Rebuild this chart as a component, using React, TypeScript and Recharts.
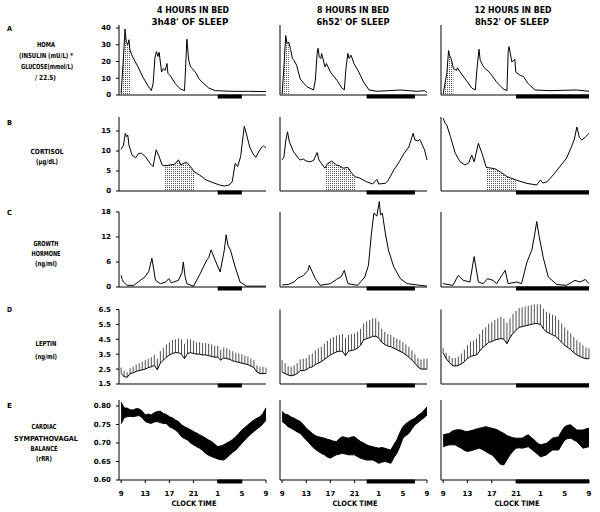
import React from "react";
import {
  ComposedChart,
  Line,
  Area,
  XAxis,
  YAxis,
  ReferenceLine,
  ReferenceArea,
  ErrorBar,
} from "recharts";

// clock hours, 9 = 09:00, 33 = 09:00 next day
const clockTicks = [9, 13, 17, 21, 25, 29, 33];
const halfHours = [
  9, 9.5, 10, 10.5, 11, 11.5, 12, 12.5, 13, 13.5, 14, 14.5, 15, 15.5, 16, 16.5,
  17, 17.5, 18, 18.5, 19, 19.5, 20, 20.5, 21, 21.5, 22, 22.5, 23, 23.5, 24,
  24.5, 25, 25.5, 26, 26.5, 27, 27.5, 28, 28.5, 29, 29.5, 30, 30.5, 31, 31.5,
  32, 32.5, 33,
];

// time in bed (clock hours)
const sleep4 = [25, 29];
const sleep8 = [23, 31];
const sleep12 = [21, 33];

// A: HOMA
const homa4T = [9, 9.35, 9.65, 9.85, 10.1, 10.3, 10.45, 10.9, 11.8, 12.6, 13.4, 14, 14.3, 14.6, 14.85, 15.1, 15.3, 15.7, 16, 16.3, 16.6, 16.75, 17.1, 18, 18.8, 19.5, 19.9, 20.1, 20.2, 20.5, 20.8, 21.4, 21.9, 22.7, 23.5, 24.6, 27.4, 30.1, 33];
const homa4 = [1, 20, 39.4, 32, 30, 33, 27, 22.8, 16.8, 10.7, 5.7, 2.6, 6.7, 22, 25.9, 23, 25.5, 13.7, 15.8, 14.7, 18.8, 13, 11.7, 6.7, 3.6, 2.6, 33.3, 24.8, 20.8, 16.8, 15.8, 13.1, 9.7, 6.7, 4.2, 2.6, 2.2, 2.2, 2];
const homa4Shade = [9, 10.45];

const homa8T = [9, 9.3, 9.6, 9.8, 10.1, 10.4, 10.7, 10.9, 11.4, 12, 13.1, 14.2, 14.5, 14.8, 14.95, 15.15, 15.4, 15.55, 16.1, 16.35, 17, 18.1, 18.9, 19.3, 19.6, 19.9, 20.1, 20.4, 20.9, 21.7, 22.5, 23.4, 24.7, 28.6, 31.4, 32.6, 33];
const homa8 = [0.6, 16.8, 35.5, 30.9, 31.5, 27.3, 21.8, 21.2, 17.8, 9.5, 5, 3, 8.7, 24.8, 27.9, 22.8, 21.8, 24.8, 16.8, 18.8, 13.7, 8.7, 4.2, 3, 16.8, 24.8, 21.8, 23.8, 18.8, 13.7, 7.7, 3, 2.2, 3, 2.2, 2.6, 1.5];
const homa8Shade = [9, 10.1];

const homa12T = [9, 9.6, 9.9, 10.05, 10.3, 10.7, 11.2, 11.35, 12, 12.9, 13.7, 14.3, 14.6, 14.9, 15.1, 15.5, 15.9, 16.4, 16.9, 17.8, 18.9, 19.5, 19.7, 19.85, 20.3, 20.8, 20.95, 21.7, 22.2, 23, 24.1, 26.6, 31, 33];
const homa12 = [0.6, 12.7, 26.5, 23.8, 21.8, 15.8, 14.7, 16.2, 12.7, 8.3, 4.2, 3, 16.8, 27.3, 20.8, 17.8, 15.8, 14.3, 12.3, 7.7, 3.6, 2.6, 25.9, 28.9, 19.8, 21.2, 13.7, 11.7, 11.1, 6.7, 3, 2.6, 3, 2.2];
const homa12Shade = [9, 10.7];

// B: cortisol
const cort4T = [9, 9.4, 9.7, 9.9, 10.1, 10.3, 10.8, 11.4, 11.9, 12.4, 13, 13.8, 14.3, 14.8, 15.2, 15.8, 16.1, 17.1, 17.9, 18.5, 18.9, 19.5, 19.9, 20.7, 21.1, 22, 23.1, 24.2, 25.3, 26.1, 26.9, 27.4, 27.9, 28.3, 28.8, 29.4, 29.8, 30.3, 30.8, 31.3, 31.8, 32.2, 32.6, 33];
const cort4 = [10.4, 11.5, 14.4, 13.6, 14, 11.5, 9, 8.3, 9.4, 9.4, 8.6, 6.9, 6.1, 10.3, 9, 6.5, 6.3, 6.5, 6.7, 7.8, 6.5, 7, 7.1, 5.7, 4.8, 4, 2.75, 2.1, 1.5, 1.25, 1.5, 2.3, 6.9, 6.1, 8.6, 16.2, 14, 11, 9.4, 8.4, 9.8, 10.8, 11.3, 10.7];
const cort4Shade = [16.1, 21.1];

const cort8T = [9, 9.3, 9.6, 9.9, 10.2, 10.9, 11.7, 12, 12.5, 13, 13.6, 14.2, 14.8, 15.1, 16.1, 16.5, 17.2, 18, 18.5, 19.1, 19.9, 20.5, 21.1, 21.9, 23, 24, 24.7, 25, 26.1, 26.6, 27.5, 28.4, 29.2, 30, 30.7, 31, 31.5, 31.8, 32.6, 33];
const cort8 = [7.8, 8.5, 12.5, 14.8, 12.3, 9.8, 8.2, 7.75, 8, 7.5, 7.3, 7.6, 9.6, 7.75, 5.7, 6.8, 7.5, 6.5, 6.3, 5.7, 5.9, 4.5, 3.6, 3.2, 2.3, 1.75, 2.9, 1.75, 1.9, 2.75, 5.25, 7.3, 9.4, 11, 14.4, 12.75, 12.5, 12.9, 10.25, 7.75];
const cort8Shade = [16.1, 21.1];

const cort12T = [9, 9.3, 9.6, 10.2, 11, 11.8, 12.6, 13.2, 13.7, 14.1, 14.8, 15.4, 16.1, 17, 17.6, 18.4, 19.5, 21, 22.8, 24.4, 25, 25.4, 26.1, 27.1, 28.2, 29.3, 30.1, 30.6, 31, 31.4, 31.8, 32.4, 33];
const cort12 = [18.2, 17, 16.5, 13.6, 9.4, 7.3, 6.5, 7, 9, 7.3, 11.9, 9.4, 5.9, 5.7, 5.5, 4.8, 3.6, 2.75, 1.9, 1.5, 2.75, 2, 2.3, 4, 6.1, 8.2, 11, 13, 16, 13.5, 12.75, 13.5, 14.4];
const cort12Shade = [16.1, 21];

// C: growth hormone
const gh4T = [9, 9.2, 9.4, 10, 11.1, 12.2, 13, 13.6, 14.1, 14.7, 15.5, 16.4, 16.9, 17.3, 18.5, 19.1, 19.3, 19.6, 19.9, 21, 22.1, 23.2, 23.5, 23.9, 24.7, 25.4, 26.1, 26.4, 26.7, 27.1, 27.9, 28.7, 29.8, 33];
const gh4 = [2.8, 1.8, 1.2, 0.4, 0.4, 1.6, 2.5, 3.8, 6.9, 1.6, 0.8, 1.2, 2, 1, 1.6, 3.5, 6, 2.5, 0.8, 0.2, 3.2, 6.5, 7, 8.9, 6, 3.6, 8.9, 12.5, 10, 8.9, 4.8, 1.2, 0.2, 0.2];

const gh8T = [9, 10, 11, 11.5, 12, 12.5, 13.3, 13.5, 14.5, 15.3, 17, 18, 18.8, 19.3, 19.9, 21.5, 22.7, 23.3, 23.8, 24.2, 24.7, 25.1, 25.3, 25.6, 26.1, 26.6, 27.5, 28.6, 29.7, 33];
const gh8 = [0.5, 0.6, 1.2, 2, 2.4, 2.7, 4, 5.2, 2, 0.4, 0.8, 1.8, 2.5, 4, 0.8, 0.4, 2.4, 5.2, 12.9, 17.7, 17, 20.5, 17.3, 17.7, 12.9, 8.9, 4.8, 2, 0.8, 0.2];

const gh12T = [9, 10.6, 11.5, 12.3, 13.4, 14.1, 14.8, 15.6, 16.3, 17.2, 17.8, 19.2, 19.7, 21.1, 21.9, 22.8, 23.6, 24.1, 24.4, 24.8, 25.5, 26.3, 27.7, 29.3, 30.7, 31.5, 32.4, 33];
const gh12 = [0.8, 0.4, 2.8, 1.6, 1.2, 7.3, 1.2, 0.8, 2, 1.6, 0.8, 4, 0.8, 1.2, 0.8, 6, 8.9, 12.9, 15.7, 12.1, 6.9, 2.4, 0.6, 0.4, 1.6, 1.2, 1.8, 0.8];

// D: leptin, mean and upward SEM, every half hour
const lep4 = [2.2, 2, 1.95, 2.2, 2.25, 2.35, 2.4, 2.45, 2.5, 2.6, 2.65, 2.75, 2.45, 2.9, 3.1, 3.3, 3.45, 3.55, 3.6, 3.6, 3.5, 3.2, 3.55, 3.6, 3.55, 3.5, 3.5, 3.45, 3.45, 3.4, 3.35, 3.3, 3.3, 3.1, 3.25, 3.2, 3.15, 3.05, 3, 2.95, 2.9, 2.85, 2.8, 2.7, 2.6, 2.3, 2.2, 2.2, 2.2];
const lep4Sem = [0.4, 0.4, 0.35, 0.35, 0.4, 0.45, 0.5, 0.55, 0.6, 0.6, 0.65, 0.7, 0.75, 0.8, 0.8, 0.85, 0.85, 0.9, 0.9, 0.95, 1, 1, 0.95, 0.9, 0.85, 0.8, 0.8, 0.8, 0.8, 0.8, 0.8, 0.75, 0.75, 0.7, 0.7, 0.7, 0.65, 0.65, 0.6, 0.6, 0.6, 0.55, 0.55, 0.5, 0.5, 0.45, 0.45, 0.45, 0.4];
const lep8 = [2.3, 2.2, 2.1, 2.05, 2.1, 2.2, 2.4, 2.4, 2.45, 2.6, 2.65, 2.8, 2.9, 3, 3.15, 3.3, 3.45, 3.55, 3.65, 3.7, 3.7, 3.4, 3.7, 3.75, 3.8, 3.9, 4.1, 4.45, 4.55, 4.6, 4.7, 4.7, 4.6, 4.3, 4.15, 4.05, 4, 3.9, 3.8, 3.7, 3.6, 3.45, 3.3, 3.1, 2.9, 2.65, 2.5, 2.5, 2.5];
const lep8Sem = [0.8, 0.7, 0.6, 0.6, 0.65, 0.7, 0.75, 0.8, 0.8, 0.85, 0.9, 0.95, 1, 1, 1.05, 1.1, 1.1, 1.1, 1.1, 1.1, 1.15, 1.2, 1.1, 1.1, 1.1, 1.1, 1.1, 1.1, 1.15, 1.2, 1.2, 1.2, 1.1, 0.9, 0.85, 0.8, 0.8, 0.75, 0.75, 0.75, 0.7, 0.7, 0.7, 0.65, 0.6, 0.6, 0.65, 0.7, 0.7];
const lep12 = [3.6, 3.2, 2.95, 2.75, 2.7, 2.75, 2.85, 3, 3.2, 3.35, 3.4, 3.45, 3.7, 3.95, 4.1, 4.3, 4.35, 4.45, 4.5, 4.55, 4.5, 4.2, 4.6, 4.9, 5.1, 5.3, 5.35, 5.4, 5.45, 5.5, 5.55, 5.55, 5.5, 5.2, 5, 4.9, 4.8, 4.7, 4.5, 4.3, 4.1, 3.95, 3.8, 3.6, 3.45, 3.35, 3.25, 3.2, 3.2];
const lep12Sem = [0.3, 0.4, 0.45, 0.5, 0.55, 0.6, 0.7, 0.8, 0.9, 1, 1, 1.1, 1.15, 1.2, 1.2, 1.25, 1.3, 1.35, 1.4, 1.45, 1.4, 1.4, 1.3, 1.3, 1.3, 1.3, 1.3, 1.3, 1.3, 1.3, 1.3, 1.3, 1.35, 1.35, 1.35, 1.35, 1.35, 1.35, 1.3, 1.25, 1.2, 1.15, 1.1, 1.05, 1, 0.95, 0.85, 0.75, 0.7];

// E: cardiac sympathovagal balance, lower and upper edge of the band
const sv4Lo = [0.752, 0.768, 0.771, 0.772, 0.771, 0.773, 0.774, 0.768, 0.758, 0.755, 0.753, 0.757, 0.758, 0.755, 0.753, 0.752, 0.744, 0.74, 0.735, 0.728, 0.717, 0.712, 0.708, 0.7, 0.695, 0.69, 0.686, 0.68, 0.672, 0.667, 0.663, 0.66, 0.657, 0.655, 0.654, 0.66, 0.668, 0.675, 0.681, 0.69, 0.699, 0.708, 0.717, 0.724, 0.731, 0.738, 0.744, 0.752, 0.762];
const sv4Hi = [0.81, 0.795, 0.794, 0.79, 0.789, 0.793, 0.792, 0.786, 0.776, 0.778, 0.776, 0.782, 0.785, 0.786, 0.78, 0.777, 0.771, 0.768, 0.762, 0.758, 0.749, 0.744, 0.74, 0.736, 0.731, 0.727, 0.722, 0.718, 0.713, 0.708, 0.704, 0.697, 0.69, 0.692, 0.695, 0.7, 0.704, 0.71, 0.717, 0.726, 0.735, 0.742, 0.749, 0.756, 0.762, 0.767, 0.771, 0.78, 0.795];
const sv8Lo = [0.758, 0.752, 0.744, 0.74, 0.735, 0.73, 0.726, 0.717, 0.708, 0.7, 0.69, 0.683, 0.677, 0.672, 0.668, 0.662, 0.659, 0.664, 0.668, 0.67, 0.672, 0.67, 0.668, 0.668, 0.668, 0.663, 0.659, 0.656, 0.654, 0.654, 0.654, 0.65, 0.645, 0.648, 0.65, 0.648, 0.645, 0.66, 0.672, 0.69, 0.713, 0.72, 0.726, 0.738, 0.749, 0.755, 0.762, 0.768, 0.776];
const sv8Hi = [0.785, 0.778, 0.776, 0.77, 0.767, 0.762, 0.758, 0.75, 0.74, 0.733, 0.726, 0.72, 0.717, 0.715, 0.713, 0.71, 0.708, 0.705, 0.704, 0.712, 0.717, 0.715, 0.713, 0.716, 0.717, 0.71, 0.704, 0.7, 0.695, 0.692, 0.69, 0.688, 0.686, 0.688, 0.686, 0.683, 0.681, 0.695, 0.708, 0.728, 0.744, 0.752, 0.758, 0.763, 0.767, 0.775, 0.78, 0.788, 0.798];
const sv12Lo = [0.69, 0.693, 0.695, 0.695, 0.695, 0.69, 0.686, 0.68, 0.677, 0.679, 0.681, 0.684, 0.686, 0.682, 0.677, 0.672, 0.668, 0.66, 0.65, 0.642, 0.641, 0.655, 0.668, 0.678, 0.686, 0.687, 0.686, 0.688, 0.69, 0.684, 0.677, 0.67, 0.663, 0.665, 0.668, 0.675, 0.681, 0.681, 0.681, 0.695, 0.708, 0.712, 0.713, 0.708, 0.704, 0.695, 0.686, 0.688, 0.69];
const sv12Hi = [0.722, 0.724, 0.726, 0.732, 0.735, 0.736, 0.735, 0.732, 0.731, 0.733, 0.735, 0.738, 0.74, 0.742, 0.744, 0.742, 0.74, 0.738, 0.735, 0.73, 0.726, 0.72, 0.717, 0.714, 0.713, 0.713, 0.713, 0.718, 0.722, 0.715, 0.708, 0.7, 0.695, 0.697, 0.699, 0.706, 0.713, 0.715, 0.717, 0.732, 0.744, 0.748, 0.749, 0.742, 0.735, 0.735, 0.735, 0.738, 0.74];

// ---- layout (pixels) ----
const X_MIN = 8.65;
const COLS = [
  { left: 119, right: 266 },
  { left: 280, right: 427 },
  { left: 441, right: 589 },
];
const ROWS: Record<string, any> = {
  A: { top: 25, bottom: 95, domain: [0, 41.8], axisMax: 41.8, ticks: [0, 10, 20, 30, 40] },
  B: { top: 117, bottom: 191, domain: [0, 18.5], axisMax: 18.5, ticks: [0, 5, 10, 15] },
  C: { top: 199, bottom: 287, domain: [0, 21.1], axisMax: 18, ticks: [0, 6, 12, 18] },
  D: { top: 302, bottom: 384, domain: [1.5, 7], axisMax: 6.5, ticks: [1.5, 2.5, 3.5, 4.5, 5.5, 6.5] },
  E: { top: 400, bottom: 480, domain: [0.6, 0.8162], axisMax: 0.8162, ticks: [0.6, 0.65, 0.7, 0.75, 0.8], fmt: (v: number) => v.toFixed(2), showX: true },
};

const FONT = "'DejaVu Sans', sans-serif";
const tickStyle = { fontSize: 7, fontFamily: FONT, fontWeight: 700, fill: "#000" };

const lineRows = (t: number[], v: number[], shade?: number[]) =>
  t.map((h, i) => ({
    h,
    v: v[i],
    s: shade && h >= shade[0] && h <= shade[1] ? v[i] : null,
  }));
const lepRows = (v: number[], sem: number[]) =>
  halfHours.map((h, i) => ({ h, v: v[i], e: [0, sem[i]] }));
const bandRows = (lo: number[], hi: number[]) =>
  halfHours.map((h, i) => ({ h, band: [lo[i], hi[i]] }));

const SleepBar = (p: any) => (
  <rect x={p.x} y={p.y + p.height - 0.5} width={p.width} height={4} fill="#000" />
);

function Panel({ row, col, data, kind, sleep }: any) {
  const r = ROWS[row];
  const c = COLS[col];
  const YW = 40;
  const MT = 6;
  const MR = 8;
  const XH = 24;
  const plotW = c.right - c.left;
  const plotH = r.bottom - r.top;
  return (
    <div style={{ position: "absolute", left: c.left - YW, top: r.top - MT }}>
      <ComposedChart
        width={YW + plotW + MR}
        height={MT + plotH + XH}
        data={data}
        margin={{ top: MT, right: MR, bottom: 0, left: 0 }}
      >
        <XAxis
          type="number"
          dataKey="h"
          domain={[X_MIN, 33]}
          ticks={clockTicks}
          interval={0}
          tickFormatter={(h: number) => String(h % 24)}
          stroke="#000"
          tickSize={3}
          tickMargin={8}
          height={XH}
          tick={r.showX ? tickStyle : false}
        />
        <YAxis
          type="number"
          domain={r.domain}
          ticks={r.ticks}
          interval={0}
          width={YW}
          axisLine={false}
          tickLine={{ stroke: "#000" }}
          tickSize={3}
          tickMargin={5}
          tickFormatter={r.fmt}
          tick={col === 0 ? tickStyle : false}
        />
        <ReferenceLine
          segment={[
            { x: X_MIN, y: r.domain[0] },
            { x: X_MIN, y: r.axisMax },
          ]}
          stroke="#000"
        />
        <ReferenceArea
          x1={sleep[0]}
          x2={sleep[1]}
          y1={r.domain[0]}
          y2={r.axisMax}
          shape={SleepBar}
        />
        {kind === "line" && (
          <Area
            dataKey="s"
            fill="url(#stipple)"
            fillOpacity={1}
            stroke="none"
            isAnimationActive={false}
          />
        )}
        {kind === "line" && (
          <Line
            dataKey="v"
            type="linear"
            dot={false}
            stroke="#000"
            strokeWidth={1}
            isAnimationActive={false}
          />
        )}
        {kind === "sem" && (
          <Line
            dataKey="v"
            type="linear"
            dot={false}
            stroke="#000"
            strokeWidth={1}
            isAnimationActive={false}
          >
            <ErrorBar dataKey="e" direction="y" width={0} stroke="#222" strokeWidth={0.8} />
          </Line>
        )}
        {kind === "band" && (
          <Area
            dataKey="band"
            type="linear"
            fill="#000"
            fillOpacity={1}
            stroke="#000"
            strokeWidth={1}
            isAnimationActive={false}
          />
        )}
      </ComposedChart>
    </div>
  );
}

const T = ({ x, y, w, s = 7, children }: any) => (
  <text
    x={x}
    y={y}
    textAnchor="middle"
    dominantBaseline="central"
    fontSize={s}
    fontWeight="bold"
    fontFamily={FONT}
    fill="#000"
    textLength={w}
    lengthAdjust="spacingAndGlyphs"
  >
    {children}
  </text>
);

export default function App() {
  const sleeps = [sleep4, sleep8, sleep12];
  const panels = [
    { row: "A", kind: "line", data: [lineRows(homa4T, homa4, homa4Shade), lineRows(homa8T, homa8, homa8Shade), lineRows(homa12T, homa12, homa12Shade)] },
    { row: "B", kind: "line", data: [lineRows(cort4T, cort4, cort4Shade), lineRows(cort8T, cort8, cort8Shade), lineRows(cort12T, cort12, cort12Shade)] },
    { row: "C", kind: "line", data: [lineRows(gh4T, gh4), lineRows(gh8T, gh8), lineRows(gh12T, gh12)] },
    { row: "D", kind: "sem", data: [lepRows(lep4, lep4Sem), lepRows(lep8, lep8Sem), lepRows(lep12, lep12Sem)] },
    { row: "E", kind: "band", data: [bandRows(sv4Lo, sv4Hi), bandRows(sv8Lo, sv8Hi), bandRows(sv12Lo, sv12Hi)] },
  ];

  return (
    <div
      style={{
        position: "absolute",
        left: 0,
        top: 0,
        width: 600,
        height: 512,
        background: "#fff",
        overflow: "hidden",
      }}
    >
      <svg width={600} height={512} style={{ position: "absolute", left: 0, top: 0 }}>
        <defs>
          <pattern id="stipple" width="2" height="2" patternUnits="userSpaceOnUse">
            <rect width="1" height="1" fill="#555" />
          </pattern>
        </defs>

        <T x={193} y={10.5} w={72} s={8}>4 HOURS IN BED</T>
        <T x={190} y={22.5} w={77} s={8}>3h48' OF SLEEP</T>
        <T x={353} y={10.5} w={72} s={8}>8 HOURS IN BED</T>
        <T x={353} y={22.5} w={73} s={8}>6h52' OF SLEEP</T>
        <T x={513} y={10.5} w={77} s={8}>12 HOURS IN BED</T>
        <T x={512} y={22.5} w={74} s={8}>8h52' OF SLEEP</T>

        <T x={9.5} y={29} w={5}>A</T>
        <T x={9.5} y={123} w={5}>B</T>
        <T x={9.5} y={213} w={5}>C</T>
        <T x={9.5} y={309.5} w={5}>D</T>
        <T x={9.5} y={405.5} w={5}>E</T>

        <T x={46} y={45} w={18}>HOMA</T>
        <T x={46} y={55.5} w={54}>(INSULIN (mU/L) *</T>
        <T x={47} y={66.5} w={52}>GLUCOSE(mmol/L)</T>
        <T x={45.5} y={77.5} w={21}>/ 22.5)</T>

        <T x={47} y={151.5} w={33}>CORTISOL</T>
        <T x={47} y={161.5} w={22}>(µg/dL)</T>

        <T x={46} y={244} w={25}>GROWTH</T>
        <T x={46} y={254} w={29}>HORMONE</T>
        <T x={46} y={263.5} w={22}>(ng/ml)</T>

        <T x={46} y={343.5} w={21}>LEPTIN</T>
        <T x={46} y={356.5} w={22}>(ng/ml)</T>

        <T x={44} y={427} w={25}>CARDIAC</T>
        <T x={46} y={438.5} w={64}>SYMPATHOVAGAL</T>
        <T x={44} y={449} w={27}>BALANCE</T>
        <T x={44} y={458.5} w={16}>(rRR)</T>

        <T x={194} y={503.5} w={45} s={7.5}>CLOCK TIME</T>
        <T x={355} y={503.5} w={45} s={7.5}>CLOCK TIME</T>
        <T x={517} y={503.5} w={45} s={7.5}>CLOCK TIME</T>
      </svg>

      {panels.map((p) =>
        p.data.map((d, col) => (
          <Panel
            key={p.row + col}
            row={p.row}
            col={col}
            data={d}
            kind={p.kind}
            sleep={sleeps[col]}
          />
        ))
      )}
    </div>
  );
}
